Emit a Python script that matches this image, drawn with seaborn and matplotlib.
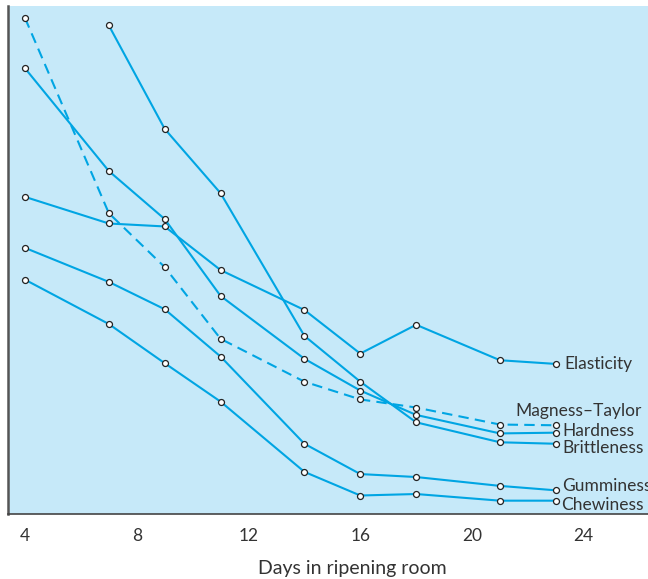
import numpy as np
import pandas as pd
import matplotlib
matplotlib.use("Agg")
import matplotlib.pyplot as plt
import seaborn as sns

# days sampled
days = [4, 7, 9, 11, 14, 16, 18, 21, 23]
days_brittle = [7, 9, 11, 14, 16, 18, 21, 23]

# values (arbitrary units)
magness_taylor = [6.74, 4.10, 3.37, 2.40, 1.82, 1.58, 1.47, 1.24, 1.23]
elasticity = [4.32, 3.96, 3.92, 3.33, 2.79, 2.20, 2.59, 2.11, 2.06]
hardness = [6.06, 4.67, 4.02, 2.98, 2.13, 1.70, 1.37, 1.12, 1.13]
brittleness = [6.64, 5.24, 4.37, 2.44, 1.82, 1.27, 1.00, 0.98]
gumminess = [3.63, 3.17, 2.80, 2.16, 0.98, 0.57, 0.53, 0.41, 0.35]
chewiness = [3.20, 2.60, 2.07, 1.55, 0.60, 0.28, 0.30, 0.21, 0.21]

x_ticks = list(range(4, 25, 2))
x_labels = ['4', '', '8', '', '12', '', '16', '', '20', '', '24']

line_col = '#00A5E3'
bg_col = '#C6E9F9'
txt_col = '#333333'

sns.set_style('white')
plt.rcParams['font.family'] = ['Lato', 'DejaVu Sans']

fig = plt.figure(figsize=(6.48, 5.79), dpi=100)
ax = fig.add_axes([0.0116, 0.1123, 0.988, 0.877])
ax.set_facecolor(bg_col)

series = [
    ('Magness\u2013Taylor', days, magness_taylor, (5, 3), (-29, 10)),
    ('Elasticity', days, elasticity, None, (6.5, 0)),
    ('Hardness', days, hardness, None, (4.5, 1.5)),
    ('Brittleness', days_brittle, brittleness, None, (4.5, -3)),
    ('Gumminess', days, gumminess, None, (4.5, 3)),
    ('Chewiness', days, chewiness, None, (4, -3)),
]

for name, xs, ys, dash, off in series:
    df = pd.DataFrame({'day': xs, 'value': ys})
    sns.lineplot(data=df, x='day', y='value', ax=ax, color=line_col,
                 linewidth=1.5, marker='o', markersize=4.3,
                 markerfacecolor='white', markeredgecolor='#222222',
                 markeredgewidth=0.9, zorder=3)
    if dash is not None:
        ax.lines[-1].set_dashes(dash)
    ax.annotate(name, xy=(xs[-1], ys[-1]), xytext=off,
                textcoords='offset points', ha='left', va='center',
                fontsize=12.5, color=txt_col)

ax.set_xlim(3.374, 26.29)
ax.set_ylim(0.03, 6.90)
ax.set_xticks(x_ticks)
ax.set_xticklabels(x_labels)
ax.set_yticks([1, 2, 3, 4, 5, 6])
ax.set_yticklabels([])
ax.tick_params(axis='both', direction='in', length=6.5, width=1.1,
               color='#444444', labelsize=12.5, labelcolor=txt_col)
ax.tick_params(axis='x', pad=10)

for side in ['top', 'right']:
    ax.spines[side].set_visible(False)
ax.spines['left'].set_color('#555555')
ax.spines['left'].set_linewidth(1.8)
ax.spines['bottom'].set_color('#444444')
ax.spines['bottom'].set_linewidth(1.2)

ax.set_xlabel('Days in ripening room', fontsize=14, color=txt_col, labelpad=7)
ax.xaxis.set_label_coords(0.538, -0.09)
ax.set_ylabel('')

fig.savefig('out.png', dpi=100)
